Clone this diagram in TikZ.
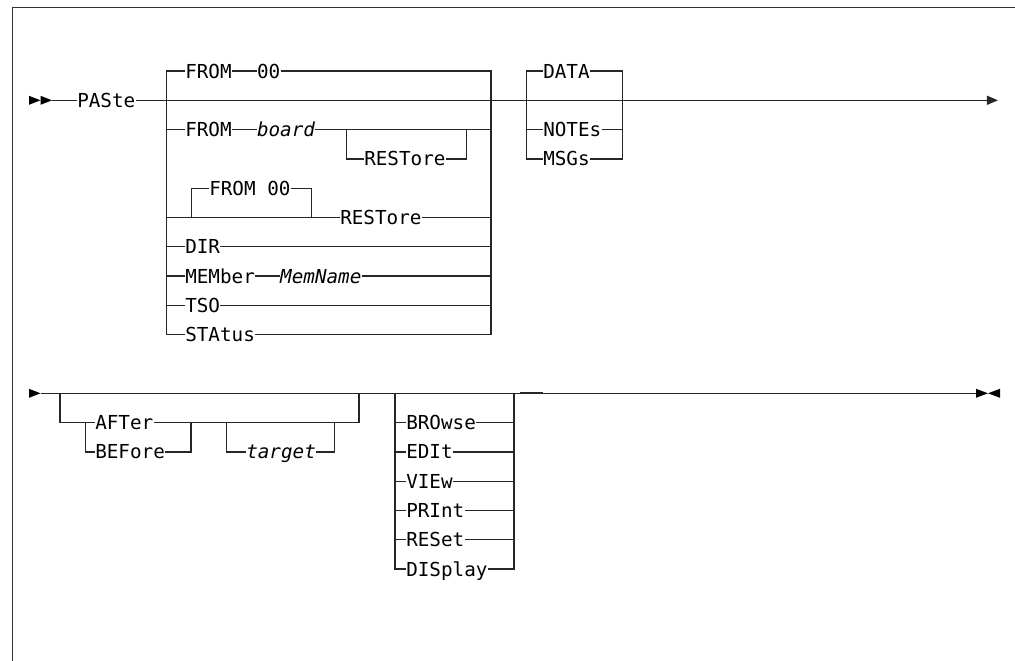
\documentclass[tikz,border=0pt]{standalone}
\usepackage{fontspec}
\setmonofont{DejaVu Sans Mono}
\usetikzlibrary{positioning, arrows.meta}
\tikzset{
	kw/.style={font=\ttfamily\fontsize{13.7}{16}\selectfont, inner sep=0pt,
		text height=10pt, text depth=0pt, anchor=west},
	parm/.style={kw, font=\ttfamily\itshape\fontsize{13.7}{16}\selectfont},
	rail/.style={draw=black!85, line width=0.9pt},
	railend/.style={rail, -{Triangle[length=8pt, width=6.5pt]}},
	frame/.style={draw=black!80, line width=1pt}
}

\begin{document}
\begin{tikzpicture}[x=0.025cm, y=-0.025cm, node distance=0.62cm]
	\useasboundingbox (0,0) rectangle (1015,661);
	\draw[frame] (12.7,661) -- (12.7,7.3) -- (1015,7.3);

	% first line
	\fill (29,95.8) -- (40.5,100.3) -- (29,104.8) -- cycle;
	\fill (40.5,95.8) -- (52,100.3) -- (40.5,104.8) -- cycle;
	\coordinate (in1) at (52,100.3);
	\coordinate (out1) at (998,100.3);
	\node[kw] (paste) at (77,100.3) {PASte};
	\draw[rail] (in1) -- (paste);
	\draw[railend] (paste) -- (out1);

	% FROM choices
	\node[kw] (fromA) at (185,71) {FROM};
	\node[kw, right=of fromA] (zeroA) {00};
	\node[kw] (fromB) at (185,129.6) {FROM};
	\node[parm, right=of fromB] (board) {board};
	\node[kw] (restA) at (364,158.9) {RESTore};
	\node[kw] (fromC) at (209,188.2) {FROM 00};
	\node[kw] (restB) at (340,217.5) {RESTore};
	\node[kw] (dir) at (185,246.8) {DIR};
	\node[kw] (mem) at (185,276.1) {MEMber};
	\node[parm, right=of mem] (memname) {MemName};
	\node[kw] (tso) at (185,305.4) {TSO};
	\node[kw] (status) at (185,334.7) {STAtus};

	\coordinate (lt) at (166.7,71);
	\coordinate (rt) at (491,71);
	\draw[rail] (fromA.west) -- (lt) -- (lt |- status) -- (status.west);
	\draw[rail] (zeroA.east) -- (rt) -- (rt |- status) -- (status.east);
	\draw[rail] (fromA) -- (zeroA);
	\draw[rail] (lt |- fromB) -- (fromB);
	\draw[rail] (fromB) -- (board);
	\draw[rail] (board) -- (rt |- board);
	\coordinate (oa) at (346.7,129.6);
	\coordinate (ob) at (466.7,129.6);
	\draw[rail] (oa) |- (restA.west);
	\draw[rail] (restA.east) -| (ob);
	\draw[rail] (lt |- restB) -- (restB);
	\draw[rail] (restB) -- (rt |- restB);
	\coordinate (na) at (191.7,217.5);
	\coordinate (nb) at (311.7,217.5);
	\draw[rail] (na) |- (fromC.west);
	\draw[rail] (fromC.east) -| (nb);
	\draw[rail] (lt |- dir) -- (dir);
	\draw[rail] (dir) -- (rt |- dir);
	\draw[rail] (lt |- mem) -- (mem);
	\draw[rail] (mem) -- (memname);
	\draw[rail] (memname) -- (rt |- memname);
	\draw[rail] (lt |- tso) -- (tso);
	\draw[rail] (tso) -- (rt |- tso);

	% DATA choices
	\node[kw] (data) at (543,71) {DATA};
	\node[kw] (notes) at (543,129.6) {NOTEs};
	\node[kw] (msgs) at (543,158.9) {MSGs};
	\coordinate (dl) at (526.7,71);
	\coordinate (dr) at (622.3,71);
	\draw[rail] (data.west) -- (dl) -- (dl |- msgs) -- (msgs.west);
	\draw[rail] (data.east) -- (dr) -- (dr |- msgs) -- (msgs.east);
	\draw[rail] (dl |- notes) -- (notes);
	\draw[rail] (notes) -- (dr |- notes);

	% second line
	\fill (29,388.8) -- (40.5,393.3) -- (29,397.8) -- cycle;
	\fill (976,388.8) -- (988,393.3) -- (976,397.8) -- cycle;
	\fill (1000,388.8) -- (988,393.3) -- (1000,397.8) -- cycle;
	\coordinate (in2) at (40.5,393.3);
	\coordinate (out2) at (976,393.3);
	\draw[rail] (in2) -- (out2);

	% AFTer / BEFore target
	\node[kw] (after) at (95,422.6) {AFTer};
	\node[kw] (before) at (95,451.9) {BEFore};
	\node[parm] (target) at (246,451.9) {target};
	\coordinate (pl) at (60,393.3);
	\coordinate (pr) at (359,393.3);
	\coordinate (cl) at (85.7,422.6);
	\coordinate (cr) at (191,422.6);
	\coordinate (tl) at (226.7,422.6);
	\coordinate (tr) at (334.3,422.6);
	\draw[rail] (pl) |- (after.west);
	\draw[rail] (after.east) -| (pr);
	\draw[rail] (cl) |- (before.west);
	\draw[rail] (before.east) -| (cr);
	\draw[rail] (tl) |- (target.west);
	\draw[rail] (target.east) -| (tr);

	% mode choices
	\node[kw] (browse) at (406,422.6) {BROwse};
	\node[kw] (edit) at (406,451.9) {EDIt};
	\node[kw] (view) at (406,481.2) {VIEw};
	\node[kw] (print) at (406,510.5) {PRInt};
	\node[kw] (reset) at (406,539.8) {RESet};
	\node[kw] (display) at (406,569.1) {DISplay};
	\coordinate (gl) at (395,393.3);
	\coordinate (gr) at (514,393.3);
	\draw[rail] (gl) |- (display.west);
	\draw[rail] (gr) |- (display.east);
	\draw[rail] (gl |- browse) -- (browse);
	\draw[rail] (browse) -- (gr |- browse);
	\draw[rail] (gl |- edit) -- (edit);
	\draw[rail] (edit) -- (gr |- edit);
	\draw[rail] (gl |- view) -- (view);
	\draw[rail] (view) -- (gr |- view);
	\draw[rail] (gl |- print) -- (print);
	\draw[rail] (print) -- (gr |- print);
	\draw[rail] (gl |- reset) -- (reset);
	\draw[rail] (reset) -- (gr |- reset);
	\coordinate (ja) at (520,393.3);
	\coordinate (jb) at (543,393.3);
	\draw[rail, line width=1.6pt] (ja) -- (jb);
\end{tikzpicture}
\end{document}
